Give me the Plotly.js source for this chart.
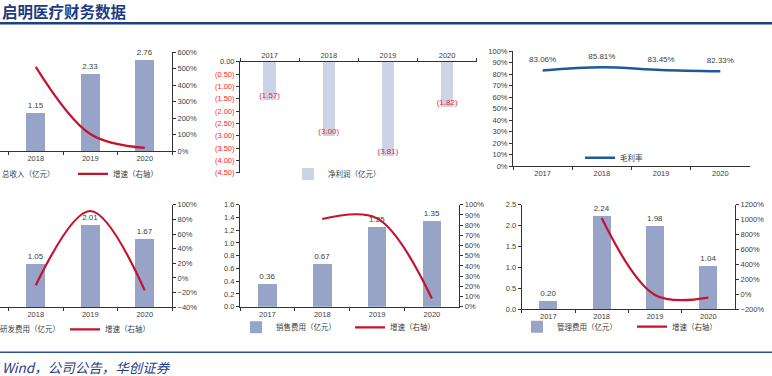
<!DOCTYPE html>
<html>
<head>
<meta charset="utf-8">
<script src="https://cdn.plot.ly/plotly-3.0.1.min.js"></script>
<style>html,body{margin:0;padding:0;background:#fff;overflow:hidden;width:772px;height:376px}#chart{width:832px;height:376px;margin-left:-60px}</style>
</head>
<body>
<div id="chart"></div>
<script>
// ---------- data ----------
var years = ['2017', '2018', '2019', '2020'];
var growthYears = ['2018', '2019', '2020'];

var revenue = [1.15, 2.33, 2.76];            // 总收入（亿元）2018-2020 (2017 lies off the page)
var revenueGrowth = [510, 103, 18.5];        // 增速 %

var netProfit = [-1.57, -3.00, -3.81, -1.82];// 净利润（亿元）
var netProfitTickVals = [0, -0.5, -1, -1.5, -2, -2.5, -3, -3.5, -4, -4.5];
var netProfitTickLabels = ['0.00', '(0.50)', '(1.00)', '(1.50)', '(2.00)', '(2.50)', '(3.00)', '(3.50)', '(4.00)', '(4.50)'];

var grossMargin = [0.8306, 0.8581, 0.8345, 0.8233]; // 毛利率

var rd = [1.05, 2.01, 1.67];                 // 研发费用（亿元）2018-2020
var rdGrowth = [-10, 91.4, -16.9];

var sales = [0.36, 0.67, 1.25, 1.35];        // 销售费用（亿元）
var salesGrowth = [86, 86.6, 8];

var admin = [0.20, 2.24, 1.98, 1.04];        // 管理费用（亿元）
var adminGrowth = [1020, -11.6, -47.5];

// ---------- geometry helpers (viewport px -> paper fraction) ----------
var OFF = 60, W = 832, H = 376;
function fx(p) { return (p + OFF) / W; }
function fy(p) { return 1 - p / H; }
var BAR = '#97a4c8', BAR_LIGHT = '#cdd3e6', RED = '#c4122f', BLUE = '#1d5a97';
var NUM_FONT = 'Liberation Sans, Arial, sans-serif';
var CJK_FONT = 'Noto Sans CJK SC, sans-serif';
var tickFont = {family: NUM_FONT, size: 7.5, color: '#404040'};
var labelFont = {family: NUM_FONT, size: 8, color: '#404040'};
var legFont = {family: CJK_FONT, size: 7.5, color: '#404040'};

function fmt2(v) { return v.toFixed(2); }
function pct2(v) { return (v * 100).toFixed(2) + '%'; }

var traces = [];
// Panel 1: revenue
traces.push({type: 'bar', x: growthYears, y: revenue, xaxis: 'x', yaxis: 'y', name: '总收入（亿元）',
  marker: {color: BAR}, width: 0.34, text: revenue.map(fmt2), textposition: 'outside', textfont: labelFont,
  cliponaxis: false, legend: 'legend', hoverinfo: 'skip'});
traces.push({type: 'scatter', mode: 'lines', x: growthYears, y: revenueGrowth, xaxis: 'x', yaxis: 'y2', name: '增速（右轴）',
  line: {color: RED, width: 2.2, shape: 'spline'}, legend: 'legend', hoverinfo: 'skip'});

// Panel 2: net profit
traces.push({type: 'bar', x: years, y: netProfit, xaxis: 'x3', yaxis: 'y3', name: '净利润（亿元）',
  marker: {color: BAR_LIGHT}, width: 0.21, legend: 'legend2', hoverinfo: 'skip'});
traces.push({type: 'scatter', mode: 'text', x: years, y: netProfit, xaxis: 'x3', yaxis: 'y3',
  text: netProfit.map(function (v) { return '(' + Math.abs(v).toFixed(2) + ')'; }), textposition: 'top center',
  textfont: {family: NUM_FONT, size: 8, color: '#ff1a1a'}, showlegend: false, cliponaxis: false, hoverinfo: 'skip'});

// Panel 3: gross margin
traces.push({type: 'scatter', mode: 'lines+markers+text', x: years, y: grossMargin, xaxis: 'x5', yaxis: 'y5', name: '毛利率',
  line: {color: BLUE, width: 2.4, shape: 'spline'}, marker: {size: 8, color: 'rgba(0,0,0,0)'},
  text: grossMargin.map(pct2), textposition: 'top center',
  textfont: labelFont, cliponaxis: false, legend: 'legend3', hoverinfo: 'skip'});

// Panel 4: R&D
traces.push({type: 'bar', x: growthYears, y: rd, xaxis: 'x7', yaxis: 'y7', name: '研发费用（亿元）',
  marker: {color: BAR}, width: 0.34, text: rd.map(fmt2), textposition: 'outside', textfont: labelFont,
  cliponaxis: false, legend: 'legend4', hoverinfo: 'skip'});
traces.push({type: 'scatter', mode: 'lines', x: growthYears, y: rdGrowth, xaxis: 'x7', yaxis: 'y8', name: '增速（右轴）',
  line: {color: RED, width: 2.2, shape: 'spline'}, legend: 'legend4', cliponaxis: false, hoverinfo: 'skip'});

// Panel 5: sales
traces.push({type: 'bar', x: years, y: sales, xaxis: 'x9', yaxis: 'y9', name: '销售费用（亿元）',
  marker: {color: BAR}, width: 0.34, text: sales.map(fmt2), textposition: 'outside', textfont: labelFont,
  cliponaxis: false, legend: 'legend5', hoverinfo: 'skip'});
traces.push({type: 'scatter', mode: 'lines', x: growthYears, y: salesGrowth, xaxis: 'x9', yaxis: 'y10', name: '增速（右轴）',
  line: {color: RED, width: 2.2, shape: 'spline'}, legend: 'legend5', cliponaxis: false, hoverinfo: 'skip'});

// Panel 6: admin
traces.push({type: 'bar', x: years, y: admin, xaxis: 'x11', yaxis: 'y11', name: '管理费用（亿元）',
  marker: {color: BAR}, width: 0.34, text: admin.map(fmt2), textposition: 'outside', textfont: labelFont,
  cliponaxis: false, legend: 'legend6', hoverinfo: 'skip'});
traces.push({type: 'scatter', mode: 'lines', x: growthYears, y: adminGrowth, xaxis: 'x11', yaxis: 'y12', name: '增速（右轴）',
  line: {color: RED, width: 2.2, shape: 'spline'}, legend: 'legend6', cliponaxis: false, hoverinfo: 'skip'});

// ---------- axes ----------
function xAxis(domain, anchor, range, side) {
  return {domain: domain, anchor: anchor, type: 'category', range: range, tickson: 'boundaries',
    ticks: 'outside', ticklen: 3, tickcolor: '#333', showline: true, linecolor: '#333', linewidth: 1,
    showgrid: false, zeroline: false, tickfont: tickFont, side: side || 'bottom', fixedrange: true, automargin: false};
}
function yAxis(domain, anchor, range, dtick, fmt, suffix, side, overlay, visible) {
  var a = {domain: domain, anchor: anchor, range: range, dtick: dtick, tickformat: fmt, ticksuffix: suffix || '',
    ticks: 'outside', ticklen: 3, tickcolor: '#333', showline: true, linecolor: '#333', linewidth: 1,
    showgrid: false, zeroline: false, tickfont: tickFont, side: side || 'left', fixedrange: true, automargin: false};
  if (overlay) a.overlaying = overlay;
  if (visible === false) a.visible = false;
  return a;
}
// legend text targets (viewport px): first text start, second text start, text centre y
var legendTargets = {
  legend:  {t: [2, 113], y: 173.3},
  legend2: {t: [333], y: 174},
  legend3: {t: [625], y: 157.7},
  legend4: {t: [5, 115], y: 329.3},
  legend5: {t: [281, 400], y: 327.3},
  legend6: {t: [562, 682], y: 326.7}
};
function legendAt(id) {
  var tg = legendTargets[id];
  var ew = tg.t.length > 1 ? (tg.t[1] - tg.t[0] - 50) : 60;
  return {orientation: 'h', x: fx(tg.t[0] - 45), y: fy(tg.y), xanchor: 'left', yanchor: 'middle',
    font: legFont, bgcolor: 'rgba(0,0,0,0)', borderwidth: 0, entrywidth: ew, entrywidthmode: 'pixels',
    tracegroupgap: 0, itemclick: false, itemdoubleclick: false};
}

var layout = {
  width: W, height: H, margin: {l: 0, r: 0, t: 0, b: 0, autoexpand: false}, paper_bgcolor: '#fff', plot_bgcolor: 'rgba(0,0,0,0)',
  showlegend: true, bargap: 0, hovermode: false,
  // panel 1
  xaxis: xAxis([fx(-60), fx(172)], 'y', [-0.5 - 232 / 54.5 + 3, 2.5]),
  yaxis: yAxis([fy(151), fy(52)], 'x', [0, 3], 0.5, '.1f', '', 'left', null, false),
  yaxis2: yAxis([fy(151), fy(52)], 'x', [0, 600], 100, 'd', '%', 'right', 'y'),
  // panel 2
  xaxis3: xAxis([fx(240), fx(476.7)], 'y3', [-0.5, 3.5], 'top'),
  yaxis3: (function () {
    var a = yAxis([fy(172.7), fy(61.7)], 'x3', [-4.5, 0], null, null, '', 'left');
    a.tickmode = 'array'; a.tickvals = netProfitTickVals;
    a.ticktext = netProfitTickLabels.map(function (t, i) {
      return i === 0 ? t : '<span style="color:#ff1a1a">' + t + '</span>';
    });
    return a;
  })(),
  // panel 3
  xaxis5: xAxis([fx(513), fx(750)], 'y5', [-0.5, 3.5]),
  yaxis5: yAxis([fy(166), fy(51)], 'x5', [0, 1], 0.1, '.0%', '', 'left'),
  // panel 4
  xaxis7: xAxis([fx(-60), fx(172)], 'y7', [-0.5 - 232 / 54.5 + 3, 2.5]),
  yaxis7: yAxis([fy(307.3), fy(204.7)], 'x7', [0, 2.5], 0.5, '.1f', '', 'left', null, false),
  yaxis8: yAxis([fy(307.3), fy(204.7)], 'x7', [-40, 100], 20, 'd', '%', 'right', 'y7'),
  // panel 5
  xaxis9: xAxis([fx(240), fx(459.3)], 'y9', [-0.5, 3.5]),
  yaxis9: yAxis([fy(306.7), fy(204.7)], 'x9', [0, 1.6], 0.2, '.1f', '', 'left'),
  yaxis10: yAxis([fy(306.7), fy(204.7)], 'x9', [0, 100], 10, 'd', '%', 'right', 'y9'),
  // panel 6
  xaxis11: xAxis([fx(521.7), fx(735)], 'y11', [-0.5, 3.5]),
  yaxis11: yAxis([fy(309), fy(204.7)], 'x11', [0, 2.5], 0.5, '.1f', '', 'left'),
  yaxis12: yAxis([fy(309), fy(204.7)], 'x11', [-200, 1200], 200, 'd', '%', 'right', 'y11'),
  legend: legendAt('legend'),
  legend2: legendAt('legend2'),
  legend3: legendAt('legend3'),
  legend4: legendAt('legend4'),
  legend5: legendAt('legend5'),
  legend6: legendAt('legend6'),
  shapes: [
    {type: 'line', xref: 'paper', yref: 'paper', x0: 0, x1: 1, y0: fy(23.3), y1: fy(23.3), line: {color: '#1f3f7e', width: 2.5}},
    {type: 'line', xref: 'paper', yref: 'paper', x0: 0, x1: 1, y0: fy(352.3), y1: fy(352.3), line: {color: '#2a5396', width: 1.5}}
  ],
  annotations: [
    {xref: 'paper', yref: 'paper', x: fx(0), y: fy(11), xanchor: 'left', yanchor: 'middle', showarrow: false,
      text: '<b>启明医疗财务数据</b>', font: {family: CJK_FONT, size: 15.5, color: '#1f3b84'}},
    {xref: 'paper', yref: 'paper', x: fx(0), y: fy(366.5), xanchor: 'left', yanchor: 'middle', showarrow: false,
      text: 'Wind，公司公告，华创证券', font: {family: CJK_FONT, size: 13.5, color: '#1f3b84', style: 'italic'}}
  ]
};

Plotly.newPlot('chart', traces, layout, {staticPlot: true, displayModeBar: false}).then(function (gd) {
  // fine-tune legend placement so the legend texts start where the reference shows them
  var upd = {};
  Object.keys(legendTargets).forEach(function (id) {
    var g = gd.querySelector('g.' + id);
    if (!g) return;
    var texts = g.querySelectorAll('.legendtext');
    if (!texts.length) return;
    var tg = legendTargets[id];
    var r0 = texts[0].getBoundingClientRect();
    var dx = tg.t[0] - r0.left;
    var dy = tg.y - (r0.top + r0.height / 2);
    upd[id + '.x'] = layout[id].x + dx / W;
    upd[id + '.y'] = layout[id].y - dy / H;
    if (tg.t.length > 1 && texts.length > 1) {
      var r1 = texts[1].getBoundingClientRect();
      upd[id + '.entrywidth'] = layout[id].entrywidth + ((tg.t[1] - tg.t[0]) - (r1.left - r0.left));
    }
  });
  return Plotly.relayout(gd, upd);
});
</script>
</body>
</html>
